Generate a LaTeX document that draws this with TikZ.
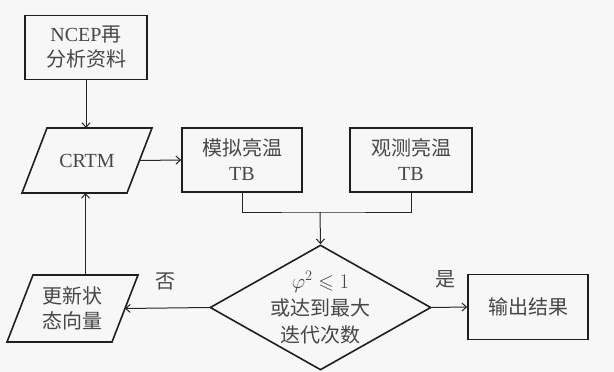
\documentclass[tikz,border=0pt]{standalone}
\usepackage{fontspec}
\usepackage{amssymb}
\setmainfont{Liberation Serif}
\newfontfamily\cjk{Noto Sans CJK SC}
\usetikzlibrary{shapes.geometric,arrows.meta}
\tikzset{
  frame/.style={draw=black!88, line width=1.6pt, inner sep=0pt, align=center,
    text=black!72, font=\fontsize{20}{25}\selectfont},
  rectbox/.style={frame, rectangle, minimum height=64pt},
  slanttext/.style={inner sep=0pt, align=center, rectangle, outer sep=0pt,
    text=black!72, font=\fontsize{20}{25}\selectfont},
  slantline/.style={draw=black!88, line width=1.6pt, line join=miter},
  decbox/.style={draw=black!88, line width=1.6pt, diamond, inner sep=0pt,
    minimum width=221pt, minimum height=125pt},
  conn/.style={draw=black!85, line width=1pt},
  arr/.style={conn, -{Straight Barb[length=4.5pt,width=8pt]}},
  lbl/.style={text=black!72, font=\fontsize{20}{25}\selectfont\cjk}
}
\begin{document}
\begin{tikzpicture}[x=1pt,y=-1pt]
\useasboundingbox[fill=black!3] (0,0) rectangle (614,372);
\node[rectbox, minimum width=122pt] (ncep) at (86,47.5) {NCEP{\cjk 再}\\{\cjk 分析资料}};
\node[slanttext, minimum width=105pt, minimum height=65pt] (crtm) at (87,160.5) {CRTM};
\draw[slantline] ([xshift=12.5pt]crtm.north west) -- ([xshift=12.5pt]crtm.north east)
  -- ([xshift=-12.5pt]crtm.south east) -- ([xshift=-12.5pt]crtm.south west) -- cycle;
\node[rectbox, minimum width=120pt] (sim) at (242,160) {{\cjk 模拟亮温}\\TB};
\node[rectbox, minimum width=122pt] (obs) at (411,160) {{\cjk 观测亮温}\\TB};
\node[decbox] (dec) at (320.5,307.5) {};
\node[align=center, text=black!72, font=\fontsize{20}{27}\selectfont] (dectext) at (dec.center) {$\varphi^2\leqslant 1$\\{\cjk 或达到最大}\\{\cjk 迭代次数}};
\node[rectbox, minimum width=120pt, minimum height=65pt] (out) at (528,307) {\cjk 输出结果};
\node[slanttext, minimum width=105pt, minimum height=67pt] (upd) at (72.5,308.5) {{\cjk 更新状}\\{\cjk 态向量}};
\draw[slantline] ([xshift=13pt]upd.north west) -- ([xshift=13pt]upd.north east)
  -- ([xshift=-13pt]upd.south east) -- ([xshift=-13pt]upd.south west) -- cycle;
\coordinate (j) at (320,212);
\draw[arr] (ncep.south) -- (ncep.south |- crtm.north);
\draw[arr] (crtm.east) -- (sim.west);
\draw[conn] (sim.south) |- (j) -| (obs.south);
\draw[arr] (j) -- (dec.north);
\draw[arr] (dec.west) -- (upd.east);
\draw[arr] (dec.east) -- (out.west);
\draw[arr] ([xshift=13pt]upd.north) -- ([xshift=13pt]upd.north |- crtm.south);
\node[lbl] (no) at (165,281) {否};
\node[lbl] (yes) at (445,279) {是};
\end{tikzpicture}
\end{document}
